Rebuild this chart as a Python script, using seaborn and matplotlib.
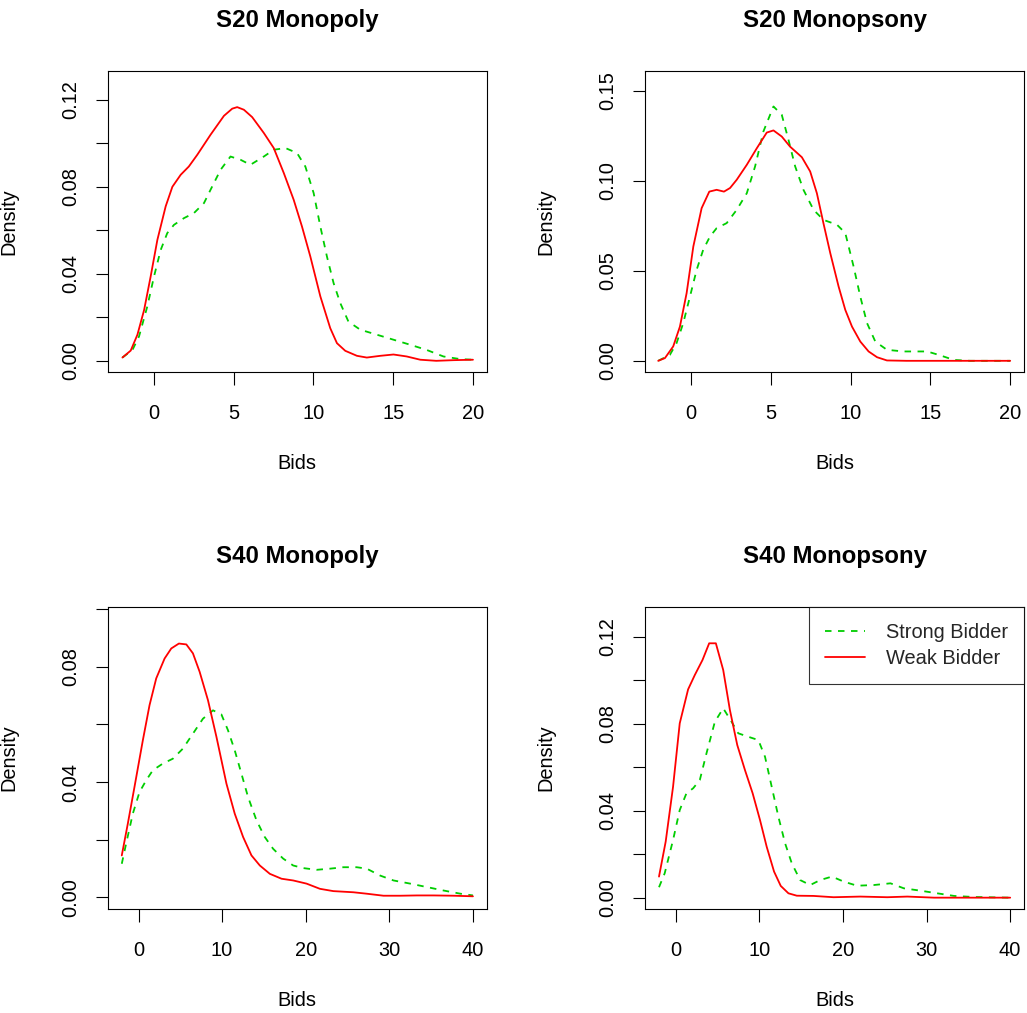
import numpy as np
import pandas as pd
import seaborn as sns
import matplotlib
matplotlib.use("Agg")
import matplotlib.pyplot as plt

# ---- data (density estimates of bids) ----
s20_mpoly_weak_x = [-1.96, -1.44, -1.02, -0.6, -0.19, 0.23, 0.75, 1.17, 1.69, 2.2, 2.73, 3.56, 4.4, 4.92,
                    5.23, 5.65, 6.17, 6.9, 7.52, 8.15, 8.77, 9.29, 9.81, 10.44, 11.06, 11.48, 12.0, 12.73,
                    13.35, 14.2, 15.02, 15.85, 16.7, 17.7, 18.8, 20.0]
s20_mpoly_weak_y = [0.0015, 0.0047, 0.012, 0.0234, 0.0388, 0.0556, 0.071, 0.080, 0.0855, 0.0893, 0.0947,
                    0.1039, 0.1126, 0.1159, 0.1166, 0.1154, 0.112, 0.1047, 0.0978, 0.0863, 0.074, 0.0617,
                    0.048, 0.0296, 0.015, 0.0081, 0.0046, 0.0023, 0.0015, 0.0023, 0.0029, 0.002, 0.0005,
                    0.0, 0.0003, 0.0005]
s20_mpoly_strong_x = [-1.96, -1.33, -0.92, -0.4, 0.02, 0.44, 0.85, 1.27, 1.9, 2.52, 3.15, 3.56, 4.19, 4.81,
                      5.44, 6.06, 6.9, 7.52, 8.25, 8.98, 9.5, 10.02, 10.44, 10.85, 11.27, 11.69, 12.2,
                      12.94, 13.98, 15.02, 16.06, 17.1, 18.15, 19.19, 20.0]
s20_mpoly_strong_y = [0.0015, 0.005, 0.0112, 0.025, 0.0388, 0.051, 0.0587, 0.0625, 0.0656, 0.0679, 0.0725,
                      0.0786, 0.0878, 0.0939, 0.0924, 0.0901, 0.0939, 0.097, 0.0978, 0.0955, 0.0893,
                      0.0771, 0.0617, 0.048, 0.0357, 0.0265, 0.018, 0.0143, 0.012, 0.0097, 0.0074, 0.005,
                      0.002, 0.0008, 0.0005]

s20_mpsony_weak_x = [-2.05, -1.63, -1.11, -0.69, -0.27, 0.15, 0.67, 1.15, 1.61, 2.07, 2.45, 2.87, 3.5, 4.12,
                     4.75, 5.17, 5.69, 6.21, 6.95, 7.47, 7.89, 8.3, 8.73, 9.25, 9.67, 10.09, 10.61, 11.13,
                     11.66, 12.28, 13.5, 15.0, 17.5, 20.0]
s20_mpsony_weak_y = [0.0, 0.0015, 0.008, 0.019, 0.0376, 0.0635, 0.0848, 0.094, 0.095, 0.094, 0.096, 0.1006,
                     0.1089, 0.118, 0.1268, 0.128, 0.1246, 0.119, 0.1131, 0.1052, 0.0931, 0.0765, 0.0598,
                     0.0413, 0.0283, 0.019, 0.0107, 0.0052, 0.002, 0.0002, 0.0, 0.0, 0.0, 0.0]
s20_mpsony_strong_x = [-2.05, -1.32, -0.9, -0.48, -0.06, 0.36, 0.77, 1.19, 1.61, 2.24, 2.87, 3.5, 4.02, 4.54,
                       5.17, 5.69, 6.11, 6.53, 7.05, 7.68, 8.3, 9.15, 9.67, 10.19, 10.61, 11.03, 11.55,
                       12.28, 13.33, 14.8, 15.52, 16.47, 17.5, 20.0]
s20_mpsony_strong_y = [0.0, 0.0033, 0.0098, 0.021, 0.0357, 0.0506, 0.0617, 0.069, 0.0737, 0.0765, 0.0839,
                       0.0931, 0.108, 0.1274, 0.1413, 0.1367, 0.1228, 0.108, 0.095, 0.0839, 0.0783, 0.0756,
                       0.071, 0.0524, 0.0357, 0.021, 0.0107, 0.0061, 0.0052, 0.0052, 0.0033, 0.0005, 0.0, 0.0]

s40_mpoly_weak_x = [-2.0, -1.28, -0.48, 0.52, 1.32, 2.12, 3.12, 3.92, 4.83, 5.72, 6.51, 7.31, 8.31, 9.32,
                    10.52, 11.51, 12.51, 13.51, 14.51, 15.71, 17.11, 18.5, 20.1, 21.7, 23.3, 25.7, 27.3,
                    29.3, 31.3, 33.3, 35.3, 37.7, 40.0]
s40_mpoly_weak_y = [0.0145, 0.0255, 0.0383, 0.0545, 0.0667, 0.076, 0.0829, 0.0864, 0.0881, 0.0878, 0.0847,
                    0.0783, 0.0684, 0.0557, 0.0394, 0.029, 0.0209, 0.0145, 0.011, 0.0081, 0.0064, 0.0058,
                    0.0047, 0.0029, 0.0021, 0.0017, 0.0012, 0.0005, 0.0005, 0.0006, 0.0006, 0.0005, 0.0003]
s40_mpoly_strong_x = [-2.0, -1.48, -0.68, 0.12, 0.92, 1.72, 2.91, 4.11, 5.31, 6.51, 7.71, 8.91, 9.91, 10.7,
                      11.51, 12.31, 13.1, 14.11, 15.1, 16.1, 17.3, 18.5, 19.7, 21.3, 22.9, 24.5, 26.1, 27.3,
                      28.9, 30.5, 32.5, 34.5, 36.5, 38.5, 40.0]
s40_mpoly_strong_y = [0.0116, 0.0186, 0.029, 0.0365, 0.0406, 0.0441, 0.0464, 0.0481, 0.0516, 0.0568, 0.062,
                      0.0649, 0.0635, 0.058, 0.051, 0.0429, 0.0348, 0.0267, 0.0209, 0.0168, 0.0134, 0.011,
                      0.0101, 0.0095, 0.0099, 0.0104, 0.0104, 0.0099, 0.0075, 0.0058, 0.0047, 0.0035,
                      0.0023, 0.0012, 0.0006]

s40_mpsony_weak_x = [-2.0, -1.2, -0.32, 0.48, 1.48, 2.28, 3.2, 4.0, 4.8, 5.68, 6.48, 7.36, 8.28, 9.2, 10.08,
                     10.88, 11.76, 12.56, 13.48, 14.48, 16.48, 18.88, 22.08, 25.3, 27.7, 30.9, 40.0]
s40_mpsony_weak_y = [0.0097, 0.0258, 0.051, 0.0802, 0.0958, 0.1024, 0.1093, 0.117, 0.117, 0.1047, 0.0863,
                     0.0702, 0.0587, 0.048, 0.0357, 0.0234, 0.012, 0.0054, 0.002, 0.0009, 0.0008, 0.0002,
                     0.0005, 0.0002, 0.0005, 0.0, 0.0]
s40_mpsony_strong_x = [-2.0, -1.32, -0.32, 0.48, 1.28, 2.08, 2.88, 3.68, 4.68, 5.68, 6.68, 7.48, 8.68, 9.88,
                       10.68, 11.48, 12.28, 13.08, 13.88, 14.88, 16.08, 17.28, 18.68, 20.08, 21.68, 23.68,
                       25.68, 27.28, 29.28, 31.28, 33.28, 35.7, 40.0]
s40_mpsony_strong_y = [0.0048, 0.0112, 0.0265, 0.0403, 0.048, 0.0503, 0.0541, 0.0664, 0.0809, 0.0871,
                       0.0809, 0.0756, 0.074, 0.0725, 0.0648, 0.051, 0.0372, 0.025, 0.0158, 0.0081, 0.0058,
                       0.0081, 0.0097, 0.0074, 0.0055, 0.0058, 0.0066, 0.0043, 0.0032, 0.002, 0.0008,
                       0.0003, 0.0]

titles = ["S20 Monopoly", "S20 Monopsony", "S40 Monopoly", "S40 Monopsony"]
series_names = ["Strong Bidder", "Weak Bidder"]

# ---- style ####################################################################
sns.set_theme(style="ticks")
plt.rcParams['font.family'] = ['Liberation Sans', 'DejaVu Sans']
plt.rcParams['axes.edgecolor'] = 'black'
plt.rcParams['axes.linewidth'] = 0.8

GREEN = '#00CD00'
RED = '#FF0000'
DASH = (3.6, 3.6)

panels = [
    dict(title=titles[0], strong=(s20_mpoly_strong_x, s20_mpoly_strong_y),
         weak=(s20_mpoly_weak_x, s20_mpoly_weak_y),
         rect=[0.1049, 0.6328, 0.3693, 0.2971], xlim=(-2.88, 20.88), ylim=(-0.00513, 0.1332),
         xticks=[0, 5, 10, 15, 20], yticks=[0, 0.02, 0.04, 0.06, 0.08, 0.10, 0.12],
         ylabels=["0.00", "", "0.04", "", "0.08", "", "0.12"]),
    dict(title=titles[1], strong=(s20_mpsony_strong_x, s20_mpsony_strong_y),
         weak=(s20_mpsony_weak_x, s20_mpsony_weak_y),
         rect=[0.6280, 0.6328, 0.3693, 0.2971], xlim=(-2.88, 20.88), ylim=(-0.0062, 0.161),
         xticks=[0, 5, 10, 15, 20], yticks=[0, 0.05, 0.10, 0.15],
         ylabels=["0.00", "0.05", "0.10", "0.15"]),
    dict(title=titles[2], strong=(s40_mpoly_strong_x, s40_mpoly_strong_y),
         weak=(s40_mpoly_weak_x, s40_mpoly_weak_y),
         rect=[0.1049, 0.1027, 0.3693, 0.2981], xlim=(-3.68, 41.68), ylim=(-0.0041, 0.1008),
         xticks=[0, 10, 20, 30, 40], yticks=[0, 0.02, 0.04, 0.06, 0.08, 0.10],
         ylabels=["0.00", "", "0.04", "", "0.08", ""]),
    dict(title=titles[3], strong=(s40_mpsony_strong_x, s40_mpsony_strong_y),
         weak=(s40_mpsony_weak_x, s40_mpsony_weak_y),
         rect=[0.6280, 0.1027, 0.3693, 0.2981], xlim=(-3.68, 41.68), ylim=(-0.0052, 0.1337),
         xticks=[0, 10, 20, 30, 40], yticks=[0, 0.02, 0.04, 0.06, 0.08, 0.10, 0.12],
         ylabels=["0.00", "", "0.04", "", "0.08", "", "0.12"]),
]

fig = plt.figure(figsize=(10.27, 10.13), dpi=100)

for i, p in enumerate(panels):
    ax = fig.add_axes(p['rect'])
    df_s = pd.DataFrame({'Bids': p['strong'][0], 'Density': p['strong'][1]})
    df_w = pd.DataFrame({'Bids': p['weak'][0], 'Density': p['weak'][1]})
    sns.lineplot(data=df_s, x='Bids', y='Density', ax=ax, color=GREEN, lw=1.3,
                 errorbar=None, label=series_names[0])
    sns.lineplot(data=df_w, x='Bids', y='Density', ax=ax, color=RED, lw=1.3,
                 errorbar=None, label=series_names[1])
    ax.lines[0].set_dashes(DASH)

    ax.set_xlim(*p['xlim'])
    ax.set_ylim(*p['ylim'])
    ax.set_xticks(p['xticks'])
    ax.set_xticklabels([str(t) for t in p['xticks']])
    ax.set_yticks(p['yticks'])
    ax.set_yticklabels(p['ylabels'], rotation=90, va='center')
    ax.tick_params(axis='both', direction='out', length=9, width=0.8, color='black',
                   labelsize=14.4, labelcolor='black')
    ax.tick_params(axis='x', pad=14)
    ax.tick_params(axis='y', pad=11)
    for s in ax.spines.values():
        s.set_visible(True)
        s.set_color('black')
        s.set_linewidth(0.8)

    ax.set_xlabel('Bids', fontsize=14.4, color='black')
    ax.set_ylabel('Density', fontsize=14.4, color='black')
    ax.xaxis.set_label_coords(0.5, -0.272)
    ax.yaxis.set_label_coords(-0.235, 0.5)
    ax.set_title(p['title'], fontsize=17.3, fontweight='bold', pad=32, color='black')

    if i == 3:
        leg = ax.legend(loc='upper right', borderaxespad=0, frameon=True, fancybox=False,
                        fontsize=14.4, handlelength=2.0, handletextpad=1.05, borderpad=0.8,
                        labelspacing=0.35)
        leg.get_frame().set_edgecolor('black')
        leg.get_frame().set_linewidth(0.8)
        leg.get_lines()[0].set_dashes(DASH)
    else:
        ax.get_legend().remove()

fig.savefig('out.png', dpi=100, facecolor='white')
